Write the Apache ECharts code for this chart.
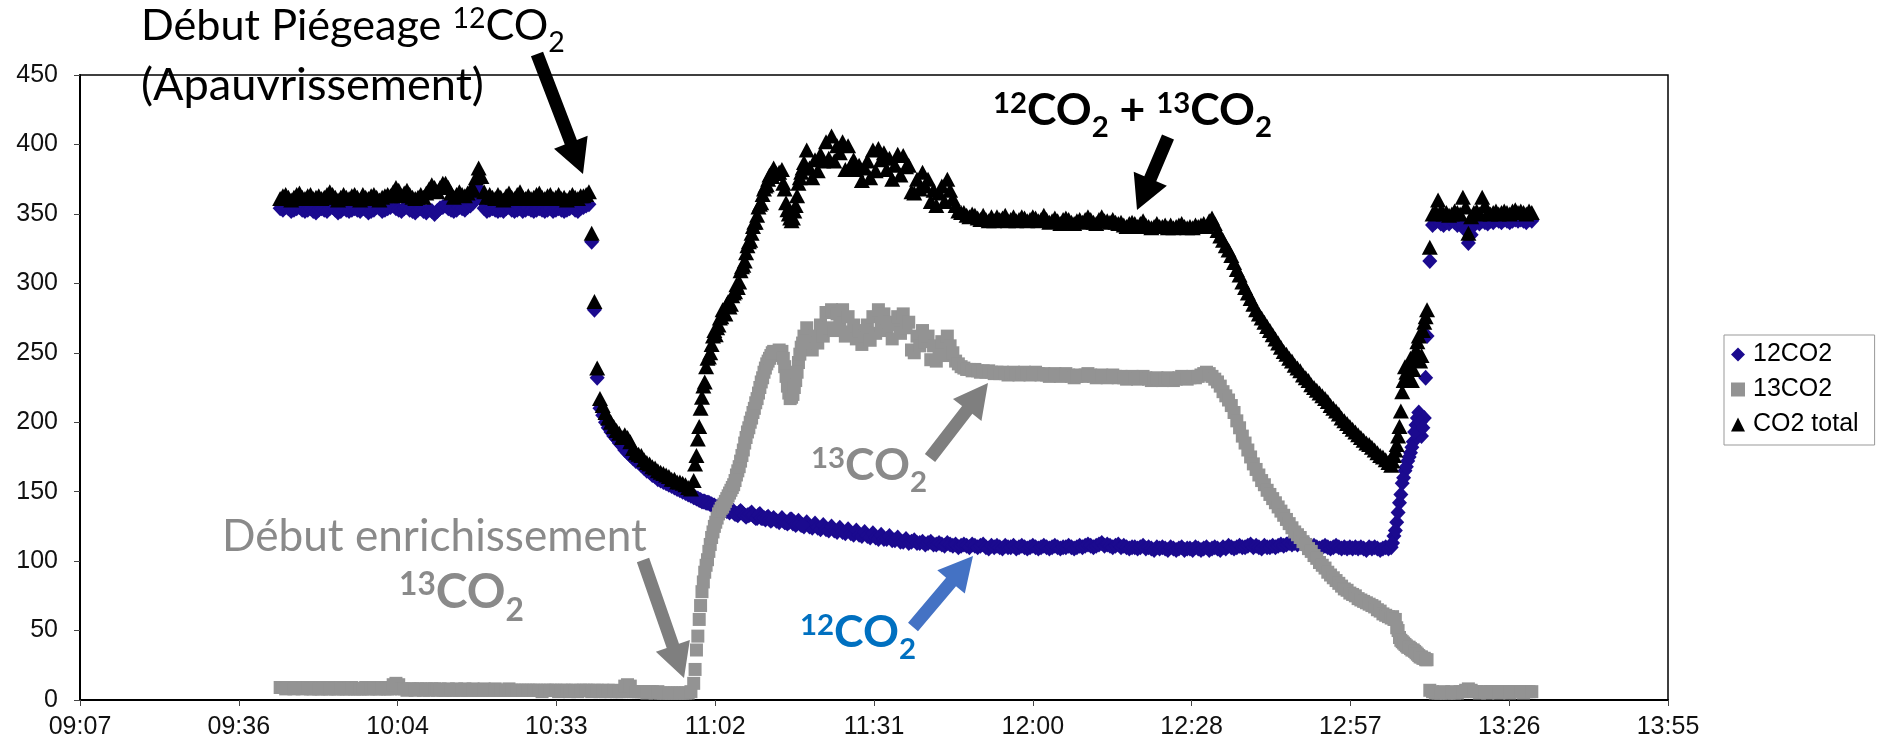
<!DOCTYPE html>
<html><head><meta charset="utf-8">
<script src="https://cdn.jsdelivr.net/npm/echarts@6/dist/echarts.min.js"></script>
<style>html,body{margin:0;padding:0;background:#fff}#c{width:1880px;height:748px}</style>
</head><body><div id="c"></div>
<script>
// ---- sampling grid (minutes since midnight) ----
const startMinute = 583.5;
const stepMinutes = 0.5;
// ---- x axis: Excel date axis 0.38 .. 0.58 day, major unit 0.02 day ----
const xMin = 547.2, xMax = 835.2, xStep = 28.8;
const yMin = 0, yMax = 450, yStep = 50;
const seriesNames = ['12CO2', '13CO2', 'CO2 total'];

const co2_12 = [
354,353,355,354,352,353,354,355,353,352,
353,354,352,351,353,354,353,352,354,355,
353,351,352,354,353,352,353,354,353,352,
354,353,351,352,353,355,354,352,353,354,
355,356,354,353,352,354,355,353,352,351,
353,354,352,351,353,352,350,352,354,355,
356,354,353,352,353,355,354,353,355,356,
358,362,368,360,354,352,353,354,353,352,
353,352,354,355,353,352,353,354,352,353,
354,353,352,353,354,353,352,353,354,352,
353,354,353,352,353,354,355,353,352,354,
355,356,357,330,281,232,210,205,200,196,
193,190,188,185,183,180,178,176,174,172,
171,169,167,165,164,162,161,159,158,157,
156,155,154,153,152,151,150,149,148,147,
146,145,144,143,143,142,141,140,139,138,
137,139,136,135,137,134,133,136,134,132,
133,135,132,131,134,131,130,132,129,131,
129,128,131,128,127,130,127,126,129,126,
125,128,125,124,127,124,123,126,123,122,
125,122,121,124,121,120,123,120,119,122,
119,118,121,118,117,120,117,116,119,116,
116,118,115,115,117,114,114,116,113,114,
115,113,113,114,112,113,114,112,112,113,
112,111,113,112,111,112,110,111,112,111,
110,112,111,110,111,112,110,109,111,110,
111,110,109,111,110,110,111,109,110,111,
110,109,110,111,110,109,110,111,110,109,
110,111,110,109,110,110,111,110,109,110,
111,110,111,112,111,110,111,112,113,111,
112,111,110,111,112,110,111,110,109,110,
110,109,110,111,109,110,109,108,110,109,
110,109,108,110,109,108,109,110,108,109,
109,108,110,109,108,109,110,108,109,110,
109,108,110,109,111,110,109,110,111,110,
110,111,112,110,111,110,109,111,110,110,
111,110,111,112,111,112,113,112,113,112,
113,112,111,112,110,111,110,109,110,111,
110,109,110,111,110,109,110,109,110,109,
110,109,110,109,108,110,109,110,109,108,
109,110,109,110,118,128,142,156,165,172,
178,186,198,207,190,203,262,316,342,344,
345,343,342,344,343,345,344,342,343,342,
338,329,335,342,344,343,345,344,343,345,
344,346,345,344,346,345,344,345,346,345,
346,345,344,346,345];

const co2_13 = [
9,9,8,9,9,8,9,9,8,9,
9,8,8,9,8,8,9,8,8,9,
8,8,9,8,8,8,9,8,8,8,
8,9,8,8,9,8,8,9,8,8,
8,11,12,11,8,8,7,8,8,7,
8,8,7,8,7,8,8,7,8,7,
7,8,7,7,8,7,7,8,7,7,
8,7,7,7,8,7,7,7,8,7,
7,7,7,8,7,7,7,7,7,7,
7,7,7,7,7,6,7,7,7,7,
7,6,7,7,7,6,7,7,6,7,
7,7,7,6,7,7,6,7,6,7,
6,7,6,6,6,10,11,10,6,6,
6,6,6,5,6,6,5,6,5,5,
5,5,5,5,5,5,5,5,5,6,
12,36,58,78,92,101,112,121,128,134,
138,141,145,149,153,158,165,172,180,189,
196,203,210,217,225,232,239,244,248,251,
250,252,251,240,226,217,220,230,243,254,
262,268,258,252,262,257,270,262,279,268,
281,266,278,270,281,262,276,265,270,260,
266,256,262,270,259,276,264,281,270,278,
266,272,260,270,276,264,278,268,272,252,
250,262,255,266,258,262,245,255,244,252,
258,248,262,255,250,244,242,240,239,238,
238,237,238,237,236,237,236,237,236,235,
236,235,236,235,234,235,236,235,234,235,
236,235,234,235,236,235,234,235,234,233,
234,235,234,233,234,235,234,233,232,233,
234,233,234,235,234,233,232,233,234,233,
232,233,234,233,232,233,232,231,232,233,
232,231,232,233,232,231,230,231,232,231,
230,231,232,231,230,231,232,233,232,231,
232,233,232,233,234,235,236,235,233,231,
229,226,222,219,216,212,207,201,196,190,
185,180,175,170,166,162,158,155,151,148,
145,142,139,136,133,130,127,124,121,119,
117,114,112,109,107,104,102,99,97,95,
92,90,88,86,84,82,80,79,77,76,
75,73,72,71,70,69,68,67,65,64,
62,61,60,59,58,52,45,42,40,38,
37,36,34,32,31,30,29,7,6,5,
5,5,6,5,5,6,5,5,6,6,
7,8,7,6,6,5,6,6,5,6,
6,6,5,6,6,6,5,6,6,6,
6,5,6,6,6];

const co2Total = [
361,363,364,362,360,362,364,365,362,361,
363,364,361,362,363,361,362,364,366,364,
362,360,362,364,362,361,363,364,362,360,
364,362,361,363,364,362,360,362,363,364,
363,366,369,367,363,365,367,364,362,361,
362,364,362,365,368,371,369,366,369,372,
372,369,365,362,364,366,364,363,365,367,
368,376,383,377,366,362,364,362,361,364,
362,360,363,365,362,361,364,366,362,361,
363,361,362,364,365,362,361,363,364,361,
362,364,361,362,360,362,364,362,361,363,
363,364,366,336,287,239,217,212,207,203,
200,197,194,192,189,191,189,186,181,178,
177,176,173,171,170,168,167,165,164,163,
162,161,159,159,157,157,156,155,153,152,
158,176,197,218,229,246,250,262,263,270,
276,279,285,283,291,294,297,309,313,322,
330,336,344,349,357,364,370,375,379,383,
379,380,382,368,353,347,347,356,372,380,
387,396,383,376,389,381,393,388,402,390,
406,388,399,394,402,382,399,385,389,382,
385,374,383,388,376,396,381,397,389,394,
382,390,375,385,393,378,392,384,385,366,
365,375,368,380,370,375,359,367,356,365,
370,359,375,367,361,356,352,351,351,349,
348,350,349,347,346,349,346,345,348,345,
348,346,347,349,345,346,348,345,346,348,
347,345,346,348,347,345,346,349,346,344,
345,347,345,343,346,347,346,344,343,345,
346,344,346,348,346,344,343,346,348,345,
345,344,346,344,343,344,342,341,343,344,
343,341,343,345,342,341,340,341,343,341,
341,342,340,342,340,341,342,343,341,340,
341,340,342,341,342,343,341,345,347,343,
338,334,331,327,324,320,315,310,306,301,
297,293,289,285,281,278,275,272,269,266,
263,260,257,254,251,249,246,244,241,239,
237,234,232,230,227,225,223,221,219,217,
215,212,210,208,206,203,201,199,197,195,
193,191,189,187,185,184,182,180,178,176,
175,173,171,169,176,184,197,222,240,232,
246,238,252,262,248,272,281,326,350,352,
360,352,350,351,349,350,352,351,350,362,
355,336,348,351,352,350,362,356,351,350,
351,352,350,351,352,351,350,352,353,351,
352,351,350,352,351];

// ---- extra (faster) samples read in the steep phases ----
const extraTimes = [
658.75,659.25,659.75,660.25,660.75,661.25,661.75,662.25,662.75,663.25,
663.75,664.25,664.75,665.25,665.75,666.25,666.75,667.25,667.75,668.25,
668.75,669.25,669.75,670.25,670.75,671.25,671.75,672.25,672.75,
674.75,675.25,675.75,676.25,676.75,677.25,677.75,678.25,
785.25,785.75,786.25,786.75,787.25,787.75,788.25,788.75,789.25,789.75,
790.25,790.75,791.25];
const extra12 = [
146,145,144,143,142,142,141,140,139,138,
138,137,136,136,135,134,135,135,133,133,
134,133,131,133,131,131,131,130,130,
129,128,128,130,128,127,127,126,
113,122,135,148,160,168,175,182,193,203,
200,196,232];
const extra13 = [
22,46,68,85,97,107,117,125,131,136,
139,143,147,151,155,162,168,176,185,193,
200,207,214,221,229,236,242,246,250,
246,233,221,218,225,236,249,257,
60,58,50,43,41,39,38,36,35,33,
31,30,29];
const extraTotal = [
170,188,210,226,240,247,256,266,268,275,
281,278,287,285,293,299,301,312,316,327,
331,341,344,355,358,368,371,378,377,
372,358,350,345,352,363,376,383,
172,180,190,208,230,236,241,230,247,258,
244,266,276];

const pts = (arr, ex) => arr.map((v, i) => [startMinute + i * stepMinutes, v])
  .concat(ex.map((v, i) => [extraTimes[i], v]));
const fmtTime = v => {
  const m = Math.floor(v + 1e-6);
  const h = Math.floor(m / 60), mm = m % 60;
  return String(h).padStart(2, '0') + ':' + String(mm).padStart(2, '0');
};

// ---- annotation helpers (pixel layout of callouts) ----
const ANN_FONT = 'Lato, "Noto Sans", sans-serif';
const cv = document.createElement('canvas').getContext('2d');
function runWidth(parts, fs, weight) {
  let w = 0;
  parts.forEach(p => {
    const s = p[1] === 'n' ? fs : fs * 0.66;
    cv.font = weight + ' ' + s + 'px ' + ANN_FONT;
    w += cv.measureText(p[0]).width;
  });
  return w;
}
function label(x, baseline, width, parts, weight, color) {
  let fs = 48;
  fs = fs * width / runWidth(parts, fs, weight);
  const els = [];
  let cx = x;
  parts.forEach(p => {
    const kind = p[1];
    const s = kind === 'n' ? fs : fs * 0.66;
    let b = baseline;
    if (kind === 'sup') b = baseline - fs * 0.30;
    if (kind === 'sub') b = baseline + fs * 0.24;
    cv.font = weight + ' ' + s + 'px ' + ANN_FONT;
    const w = cv.measureText(p[0]).width;
    cv.textBaseline = 'alphabetic';
    const m = cv.measureText('H');
    const asc = m.fontBoundingBoxAscent || s * 0.987, desc = m.fontBoundingBoxDescent || s * 0.213;
    const mid = b - (asc - desc) / 2;
    els.push({type: 'text', z: 100, silent: true, style: {
      text: p[0], x: cx, y: mid, font: weight + ' ' + s + 'px ' + ANN_FONT,
      fill: color, align: 'left', verticalAlign: 'middle', textAlign: 'left', textVerticalAlign: 'middle'}});
    cx += w;
  });
  return els;
}
function arrow(x1, y1, x2, y2, color) {
  const shaft = 13, headW = 36, headL = 34;
  const dx = x2 - x1, dy = y2 - y1, L = Math.hypot(dx, dy);
  const ux = dx / L, uy = dy / L, px = -uy, py = ux;
  const bx = x2 - ux * headL, by = y2 - uy * headL;
  const p = [
    [x1 + px * shaft / 2, y1 + py * shaft / 2],
    [bx + px * shaft / 2, by + py * shaft / 2],
    [bx + px * headW / 2, by + py * headW / 2],
    [x2, y2],
    [bx - px * headW / 2, by - py * headW / 2],
    [bx - px * shaft / 2, by - py * shaft / 2],
    [x1 - px * shaft / 2, y1 - py * shaft / 2]];
  return {type: 'polygon', z: 100, silent: true, shape: {points: p}, style: {fill: color}};
}

const GRAY_TXT = '#8a8a8a', GRAY_ARR = '#7f7f7f', BLUE_TXT = '#0070c0', BLUE_ARR = '#4472c4';
const graphics = [].concat(
  label(141, 43, 424, [['Début Piégeage ', 'n'], ['12', 'sup'], ['CO', 'n'], ['2', 'sub']], 'normal', '#000'),
  label(141, 103, 343, [['(Apauvrissement)', 'n']], 'normal', '#000'),
  label(993, 128, 279, [['12', 'sup'], ['CO', 'n'], ['2', 'sub'], [' + ', 'n'], ['13', 'sup'], ['CO', 'n'], ['2', 'sub']], 'bold', '#000'),
  label(811, 483, 116, [['13', 'sup'], ['CO', 'n'], ['2', 'sub']], 'bold', GRAY_TXT),
  label(222, 554, 425, [['Début enrichissement', 'n']], 'normal', GRAY_TXT),
  label(399, 611, 125, [['13', 'sup'], ['CO', 'n'], ['2', 'sub']], 'bold', GRAY_TXT),
  label(800, 650, 116, [['12', 'sup'], ['CO', 'n'], ['2', 'sub']], 'bold', BLUE_TXT),
  [arrow(537, 54, 583, 174, '#000'),
   arrow(1168, 137, 1137, 210, '#000'),
   arrow(930, 458, 988, 383, GRAY_ARR),
   arrow(643, 560, 684, 678, GRAY_ARR),
   arrow(913, 627, 973, 556, BLUE_ARR)]
);

const AX_FONT = '"Liberation Sans", Arial, sans-serif';
const chart = echarts.init(document.getElementById('c'), null, {renderer: 'canvas'});
chart.setOption({
  animation: false,
  backgroundColor: '#fff',
  grid: {left: 80, right: 212, top: 75, bottom: 48, show: true, borderColor: '#000', borderWidth: 1.5, backgroundColor: 'transparent'},
  xAxis: {
    type: 'value', min: xMin, max: xMax, interval: xStep,
    axisLine: {show: true, onZero: false, lineStyle: {color: '#000', width: 2}},
    axisTick: {show: true, length: 6, lineStyle: {color: '#444'}},
    splitLine: {show: false},
    axisLabel: {formatter: fmtTime, fontFamily: AX_FONT, fontSize: 25, color: '#111', margin: 15, showMinLabel: true, showMaxLabel: true}
  },
  yAxis: {
    type: 'value', min: yMin, max: yMax, interval: yStep,
    axisLine: {show: true, lineStyle: {color: '#000', width: 2}},
    axisTick: {show: true, length: 6, lineStyle: {color: '#444'}},
    splitLine: {show: false},
    axisLabel: {fontFamily: AX_FONT, fontSize: 25, color: '#111', margin: 22}
  },
  legend: {
    orient: 'vertical', left: 1724, top: 335,
    padding: [7, 16, 8, 7], itemGap: 10, itemWidth: 14, itemHeight: 14,
    borderColor: '#999', borderWidth: 1, backgroundColor: '#fff',
    textStyle: {fontFamily: AX_FONT, fontSize: 25, color: '#000', padding: [0, 0, 0, 3]},
    data: seriesNames
  },
  series: [
    {name: seriesNames[0], type: 'scatter', symbol: 'diamond', symbolSize: [15, 16], itemStyle: {color: '#1b0a8f', opacity: 1}, data: pts(co2_12, extra12), z: 2},
    {name: seriesNames[1], type: 'scatter', symbol: 'rect', symbolSize: 13, itemStyle: {color: '#939393', opacity: 1}, data: pts(co2_13, extra13), z: 3},
    {name: seriesNames[2], type: 'scatter', symbol: 'triangle', symbolSize: [16, 15], itemStyle: {color: '#000', opacity: 1}, data: pts(co2Total, extraTotal), z: 4}
  ],
  graphic: graphics
});
</script>
</body></html>
